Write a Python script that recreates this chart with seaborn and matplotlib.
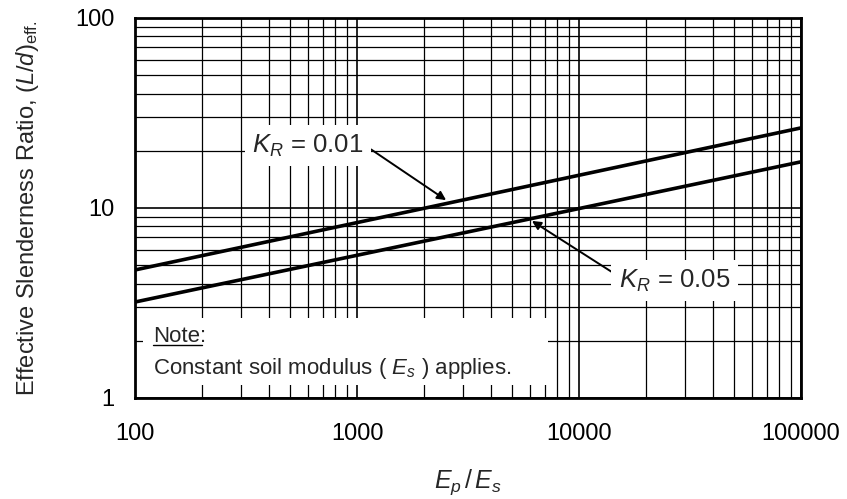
import matplotlib
matplotlib.use("Agg")
import matplotlib.pyplot as plt
import seaborn as sns
import pandas as pd
import numpy as np
from matplotlib.patches import Rectangle
from matplotlib.ticker import FixedLocator, LogLocator, NullFormatter, FixedFormatter

sns.set_style("white")
plt.rcParams['font.family'] = ['Liberation Sans', 'DejaVu Sans']
plt.rcParams['mathtext.fontset'] = 'custom'
plt.rcParams['mathtext.it'] = 'Liberation Sans:italic'
plt.rcParams['mathtext.rm'] = 'Liberation Sans'

# Data
ep_es = [100, 100000]
kr_001 = [4.72, 26.4]
kr_005 = [3.2, 17.5]
series_names = ["$K_R$ = 0.01", "$K_R$ = 0.05"]
x_ticks = [100, 1000, 10000, 100000]
x_tick_labels = ["100", "1000", "10000", "100000"]
y_ticks = [1, 10, 100]
y_tick_labels = ["1", "10", "100"]

df = pd.DataFrame({
    "x": ep_es * 2,
    "y": kr_001 + kr_005,
    "series": [series_names[0]] * 2 + [series_names[1]] * 2,
})

fig = plt.figure(figsize=(8.47, 4.99), dpi=100)
ax = fig.add_axes([135/847, 1 - 398/499, 666/847, 380/499])

sns.lineplot(data=df, x="x", y="y", units="series", estimator=None,
             color="black", linewidth=2.6, ax=ax, legend=False, zorder=3)

ax.set_xscale("log")
ax.set_yscale("log")
ax.set_xlim(100, 100000)
ax.set_ylim(1, 100)
ax.xaxis.set_major_locator(FixedLocator(x_ticks))
ax.xaxis.set_major_formatter(FixedFormatter(x_tick_labels))
ax.yaxis.set_major_locator(FixedLocator(y_ticks))
ax.yaxis.set_major_formatter(FixedFormatter(y_tick_labels))
ax.xaxis.set_minor_locator(LogLocator(base=10, subs=np.arange(2, 10)))
ax.yaxis.set_minor_locator(LogLocator(base=10, subs=np.arange(2, 10)))
ax.xaxis.set_minor_formatter(NullFormatter())
ax.yaxis.set_minor_formatter(NullFormatter())
ax.grid(True, which="major", color="black", linewidth=1.2)
ax.grid(True, which="minor", color="black", linewidth=0.9)
ax.set_axisbelow(True)

for s in ax.spines.values():
    s.set_color("black")
    s.set_linewidth(2.0)
    s.set_zorder(6)

ax.tick_params(which="major", direction="out", length=7, width=2.0,
               labelsize=17, colors="black", pad=8)
ax.tick_params(axis="x", which="major", pad=11)
ax.tick_params(which="minor", length=0)

ax.set_xlabel("$E_p\\,/\\,E_s$", fontsize=18, labelpad=16)
ax.set_ylabel("Effective Slenderness Ratio, $(L/d)_{\\mathrm{eff.}}$", fontsize=17, labelpad=24)

box = dict(boxstyle="square,pad=0.3", facecolor="white", edgecolor="none")
ax.annotate("$K_R$ = 0.01", xy=(2520, 11.0), xytext=(601, 21.3),
            fontsize=18.5, ha="center", va="center", bbox=box, zorder=5,
            arrowprops=dict(arrowstyle="-|>", color="black", lw=1.4,
                            mutation_scale=13, shrinkA=0, shrinkB=0,
                            relpos=(1.0, 0.55)))
ax.annotate("$K_R$ = 0.05", xy=(6140, 8.55), xytext=(27000, 4.15),
            fontsize=18.5, ha="center", va="center", bbox=box, zorder=5,
            arrowprops=dict(arrowstyle="-|>", color="black", lw=1.4,
                            mutation_scale=13, shrinkA=0, shrinkB=0,
                            relpos=(0.0, 0.65)))

# Note box
ax.add_patch(Rectangle((0.012, 0.034), 0.608, 0.176, transform=ax.transAxes,
                       facecolor="white", edgecolor="none", zorder=1))
ax.text(0.027, 0.148, "Note:", transform=ax.transAxes, fontsize=16,
        ha="left", va="baseline", zorder=5)
ax.plot([0.027, 0.1], [0.14, 0.14], transform=ax.transAxes, color="black", lw=1.0, zorder=5)
ax.text(0.027, 0.062, "Constant soil modulus ( $E_s$ ) applies.", transform=ax.transAxes,
        fontsize=16, ha="left", va="baseline", zorder=5)

fig.savefig("out.png", dpi=100)
